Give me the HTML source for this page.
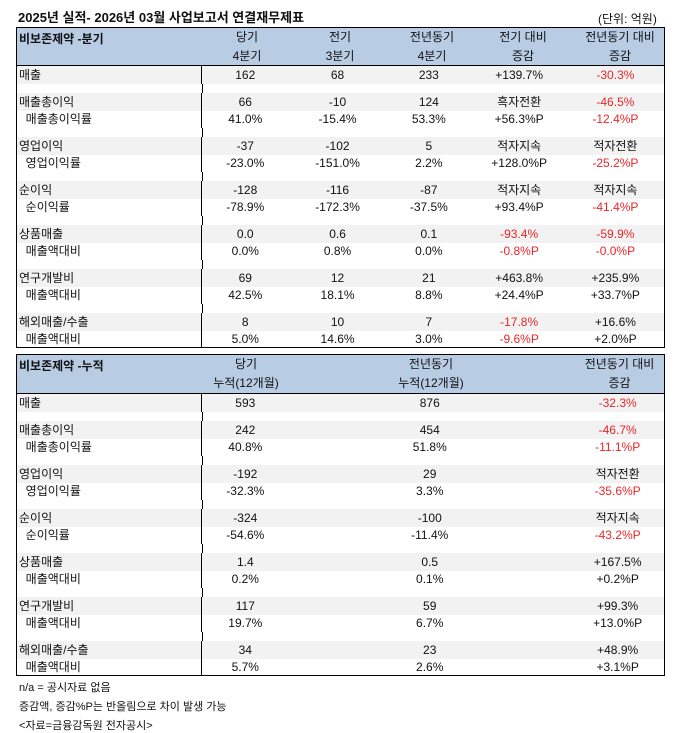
<!DOCTYPE html><html><head><meta charset="utf-8"><style>
body{margin:0;width:682px;height:733px;background:#fff;font-family:"Liberation Sans","Noto Sans CJK KR",sans-serif;font-size:12px;color:#111;position:relative;overflow:hidden}
.t{position:absolute;left:16px;width:649px;border:1px solid #000;box-sizing:border-box;overflow:hidden}
.hd{background:#b8cce4;border-bottom:1px solid #000;position:relative;box-sizing:border-box}
.r{display:flex;height:17.5px;line-height:17.5px;overflow:hidden}
.r.g{background:#f2f2f2;height:18px;line-height:18px}
.gap{height:8.5px;overflow:hidden}
.c{text-align:center;box-sizing:border-box}
.l{padding-left:2px;border-right:1px solid #000;width:186px;box-sizing:border-box;white-space:nowrap}
.red{color:#e8262a}
.ft{position:absolute;left:19px;font-size:11px}
</style></head><body>
<div style="position:absolute;left:18px;top:7px;font-weight:bold;font-size:13px">2025년 실적- 2026년 03월 사업보고서 연결재무제표</div>
<div style="position:absolute;left:598px;top:10px;font-size:12px">(단위: 억원)</div>

<div class="t" style="top:27px;height:321px">
<div class="hd" style="height:38px">
<div style="position:absolute;left:2px;top:2px;font-weight:bold">비보존제약 -분기</div>
<div style="display:flex;position:absolute;left:186px;top:0;line-height:19px"><div class="c" style="width:88px">당기<br>4분기</div><div class="c" style="width:98px">전기<br>3분기</div><div class="c" style="width:86px">전년동기<br>4분기</div><div class="c" style="width:96px">전기 대비<br>증감</div><div class="c" style="width:98px">전년동기 대비<br>증감</div></div>
</div>
<div id="b1"></div>
</div>

<div class="t" style="top:354px;height:322px">
<div class="hd" style="height:39px">
<div style="position:absolute;left:2px;top:2px;font-weight:bold">비보존제약 -누적</div>
<div style="display:flex;position:absolute;left:186px;top:0;line-height:19px"><div class="c" style="width:86px">당기<br>누적(12개월)</div><div class="c" style="width:284px">전년동기<br>누적(12개월)</div><div class="c" style="width:93px">전년동기 대비<br>증감</div></div>
</div>
<div id="b2"></div>
</div>

<div class="ft" style="top:679px">n/a = 공시자료 없음</div>
<div class="ft" style="top:698px">증감액, 증감%P는 반올림으로 차이 발생 가능</div>
<div class="ft" style="top:717px">&lt;자료=금융감독원 전자공시&gt;</div>

<script>
var w1=[88,98,86,96,98],w2=[86,284,93];
var d1=[["매출","162","68","233","+139.7%","-30.3%r"],
["매출총이익","66","-10","124","흑자전환","-46.5%r"],[" 매출총이익률","41.0%","-15.4%","53.3%","+56.3%P","-12.4%Pr"],
["영업이익","-37","-102","5","적자지속","적자전환"],[" 영업이익률","-23.0%","-151.0%","2.2%","+128.0%P","-25.2%Pr"],
["순이익","-128","-116","-87","적자지속","적자지속"],[" 순이익률","-78.9%","-172.3%","-37.5%","+93.4%P","-41.4%Pr"],
["상품매출","0.0","0.6","0.1","-93.4%r","-59.9%r"],[" 매출액대비","0.0%","0.8%","0.0%","-0.8%Pr","-0.0%Pr"],
["연구개발비","69","12","21","+463.8%","+235.9%"],[" 매출액대비","42.5%","18.1%","8.8%","+24.4%P","+33.7%P"],
["해외매출/수출","8","10","7","-17.8%r","+16.6%"],[" 매출액대비","5.0%","14.6%","3.0%","-9.6%Pr","+2.0%P"]];
var d2=[["매출","593","876","-32.3%r"],["매출총이익","242","454","-46.7%r"],[" 매출총이익률","40.8%","51.8%","-11.1%Pr"],
["영업이익","-192","29","적자전환"],[" 영업이익률","-32.3%","3.3%","-35.6%Pr"],["순이익","-324","-100","적자지속"],[" 순이익률","-54.6%","-11.4%","-43.2%Pr"],
["상품매출","1.4","0.5","+167.5%"],[" 매출액대비","0.2%","0.1%","+0.2%P"],["연구개발비","117","59","+99.3%"],[" 매출액대비","19.7%","6.7%","+13.0%P"],
["해외매출/수출","34","23","+48.9%"],[" 매출액대비","5.7%","2.6%","+3.1%P"]];
function build(id,d,w){var h="";d.forEach(function(r,i){var main=(i==0||i%2==1);if(i>0&&main)h+='<div class="gap"><div style="width:186px;height:100%;border-right:1px solid #000;box-sizing:border-box"></div></div>';
h+='<div class="r'+(main?' g':'')+'"><div class="l">'+r[0].replace(/^ /,'&nbsp;&nbsp;')+'</div>';
for(var j=1;j<r.length;j++){var v=r[j],red=false;if(v.slice(-1)=="r"){red=true;v=v.slice(0,-1)}h+='<div class="c'+(red?' red':'')+'" style="width:'+w[j-1]+'px">'+v+'</div>'}h+='</div>'});document.getElementById(id).innerHTML=h}
build("b1",d1,w1);build("b2",d2,w2);
</script>
</body></html>
